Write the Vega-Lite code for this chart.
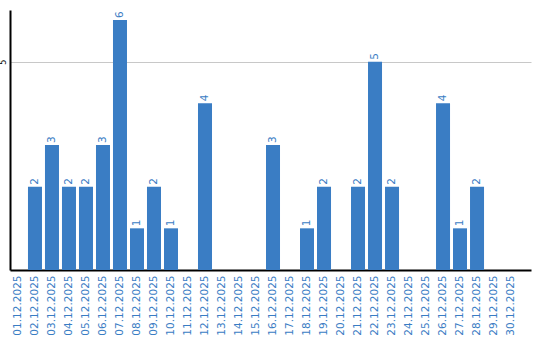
{
  "$schema": "https://vega.github.io/schema/vega-lite/v6.json",
  "autosize": "none",
  "width": 521,
  "height": 260,
  "padding": {"left": 10, "top": 10, "right": 9, "bottom": 70},
  "background": "white",
  "config": {"view": {"stroke": null}, "font": "DejaVu Sans"},
  "data": {"values": [
    {"date": "01.12.2025", "count": 0},
    {"date": "02.12.2025", "count": 2},
    {"date": "03.12.2025", "count": 3},
    {"date": "04.12.2025", "count": 2},
    {"date": "05.12.2025", "count": 2},
    {"date": "06.12.2025", "count": 3},
    {"date": "07.12.2025", "count": 6},
    {"date": "08.12.2025", "count": 1},
    {"date": "09.12.2025", "count": 2},
    {"date": "10.12.2025", "count": 1},
    {"date": "11.12.2025", "count": 0},
    {"date": "12.12.2025", "count": 4},
    {"date": "13.12.2025", "count": 0},
    {"date": "14.12.2025", "count": 0},
    {"date": "15.12.2025", "count": 0},
    {"date": "16.12.2025", "count": 3},
    {"date": "17.12.2025", "count": 0},
    {"date": "18.12.2025", "count": 1},
    {"date": "19.12.2025", "count": 2},
    {"date": "20.12.2025", "count": 0},
    {"date": "21.12.2025", "count": 2},
    {"date": "22.12.2025", "count": 5},
    {"date": "23.12.2025", "count": 2},
    {"date": "24.12.2025", "count": 0},
    {"date": "25.12.2025", "count": 0},
    {"date": "26.12.2025", "count": 4},
    {"date": "27.12.2025", "count": 1},
    {"date": "28.12.2025", "count": 2},
    {"date": "29.12.2025", "count": 0},
    {"date": "30.12.2025", "count": 0}
  ]},
  "encoding": {
    "x": {
      "field": "date", "type": "nominal", "sort": null,
      "scale": {"paddingInner": 0.176, "paddingOuter": 0.41, "align": 0.07},
      "axis": {
        "title": null, "labelAngle": 270, "labelColor": "#3a7dc4", "labelFontSize": 10.5,
        "labelPadding": 5, "ticks": false, "domainColor": "#000000", "domainWidth": 2,
        "labelBaseline": "middle", "labelAlign": "right"
      }
    },
    "y": {
      "field": "count", "type": "quantitative",
      "scale": {"domain": [0, 6.24], "nice": false},
      "axis": {
        "title": null, "values": [5], "ticks": false, "labelAngle": 270,
        "labelFontSize": 8, "labelColor": "#000000", "labelPadding": 3,
        "labelAlign": "center", "labelBaseline": "bottom",
        "domainColor": "#000000", "domainWidth": 2,
        "grid": true, "gridColor": "#c8c8c8", "gridWidth": 1
      }
    }
  },
  "layer": [
    {"mark": {"type": "bar", "color": "#3a7dc4"}},
    {
      "transform": [{"filter": "datum.count > 0"}],
      "mark": {"type": "text", "angle": 270, "align": "left", "baseline": "middle", "dx": 2, "color": "#3a7dc4", "fontSize": 10.5},
      "encoding": {"text": {"field": "count", "type": "quantitative"}}
    }
  ]
}
